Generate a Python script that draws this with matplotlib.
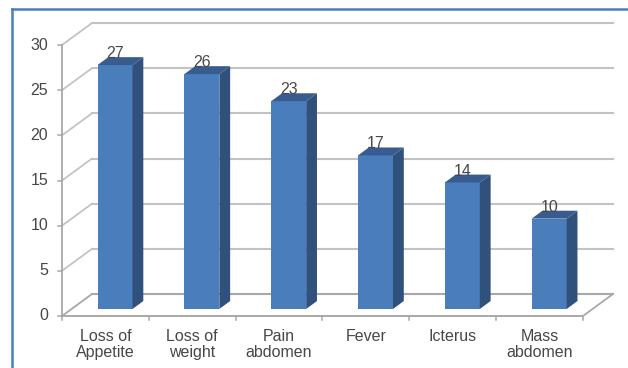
import matplotlib
matplotlib.use("Agg")
import matplotlib.pyplot as plt
from matplotlib.patches import Polygon
from matplotlib.lines import Line2D

plt.rcParams['font.family'] = ['Liberation Sans', 'DejaVu Sans']

categories = ["Loss of\nAppetite", "Loss of\nweight", "Pain\nabdomen",
              "Fever", "Icterus", "Mass\nabdomen"]
counts = [27, 26, 23, 17, 14, 10]
y_ticks = [0, 5, 10, 15, 20, 25, 30]

W, H = 628, 368
fig = plt.figure(figsize=(W / 100, H / 100), dpi=100)
fig.patch.set_facecolor('white')

# pixel scale of the pseudo-3D projection
PX_X = 86.83      # pixels per category
PX_Y = 9.033      # pixels per unit value
X0, Y0 = 62, 316  # front-left floor corner in pixels
ax = fig.add_axes([12 / W, 0, (W - 12) / W, (H - 9) / H])
ax.set_xlim((12 - X0) / PX_X, (W - X0) / PX_X)
ax.set_ylim(-(H - Y0) / PX_Y, (Y0 - 9) / PX_Y)
ax.axis('off')

DX = 30 / PX_X    # full depth offset in data units
DY = 22 / PX_Y
n = len(categories)

grid_c = '#c3c3c3'
floor_c = '#a8a8a8'
text_c = '#474747'

# back wall gridlines and side-wall diagonals
for v in y_ticks:
    c = floor_c if v == 0 else grid_c
    ax.plot([DX, n + DX], [v + DY, v + DY], color=c, lw=1.5, zorder=1)
    ax.plot([0, DX], [v, v + DY], color=c, lw=1.3, zorder=1)

# floor edges and front axis
ax.plot([0, n], [0, 0], color=floor_c, lw=1.4, zorder=1)
ax.plot([n, n + DX], [0, DY], color=floor_c, lw=1.3, zorder=1)
ax.plot([0, 0], [0, y_ticks[-1]], color=floor_c, lw=1.3, zorder=1)

# tick marks
for v in y_ticks:
    ax.plot([-4 / PX_X, 0], [v, v], color=floor_c, lw=1.1, zorder=1)
    ax.text(-14 / PX_X, v, str(v), ha='right', va='center',
            fontsize=11.5, color=text_c)
for i in range(n + 1):
    ax.plot([i, i], [0, -4 / PX_Y], color=floor_c, lw=1.1, zorder=1)

# bars
d1, d2 = 0.32, 0.68
bw = 35 / PX_X
front_c, side_c, top_c = '#4a7dbb', '#31517d', '#385c8f'
xs = [i + 0.5 + d1 * DX for i in range(n)]
base = d1 * DY
ax.bar(xs, counts, width=bw, bottom=base, color=front_c, zorder=3,
       linewidth=0)
ddx, ddy = (d2 - d1) * DX, (d2 - d1) * DY
for x, v in zip(xs, counts):
    xl, xr = x - bw / 2, x + bw / 2
    top = base + v
    ax.add_patch(Polygon([(xr, base), (xr + ddx, base + ddy),
                          (xr + ddx, top + ddy), (xr, top)],
                         closed=True, facecolor=side_c, edgecolor='none',
                         zorder=3))
    ax.add_patch(Polygon([(xl, top), (xr, top), (xr + ddx, top + ddy),
                          (xl + ddx, top + ddy)],
                         closed=True, facecolor=top_c, edgecolor='none',
                         zorder=3))
    ax.text(x, top + ddy - 4 / PX_Y, str(v), ha='center', va='bottom',
            fontsize=11.5, color=text_c, zorder=4)

# category labels
for i, lab in enumerate(categories):
    ax.text(i + 0.5, -13 / PX_Y, lab, ha='center', va='top',
            fontsize=11.5, color=text_c, linespacing=1.05)

# chart frame
frame_c = '#4a7ec0'
fig.add_artist(Line2D([12 / W, 12 / W], [0, 1 - 9 / H], color=frame_c,
                      lw=1.8, transform=fig.transFigure))
fig.add_artist(Line2D([12 / W, 1], [1 - 9 / H, 1 - 9 / H], color=frame_c,
                      lw=1.8, transform=fig.transFigure))

fig.savefig('out.png', dpi=100)
